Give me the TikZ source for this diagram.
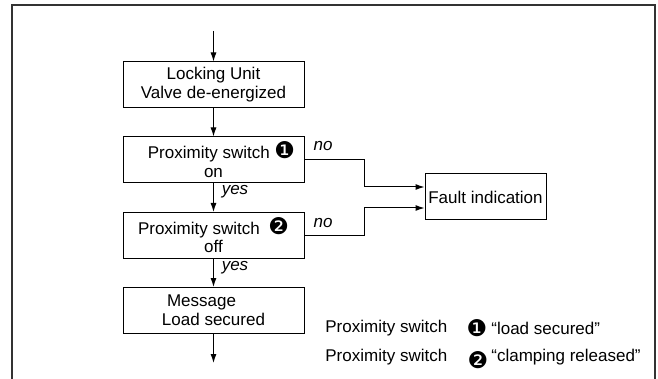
\documentclass[tikz,border=0pt]{standalone}
\usepackage{fontspec}
\setmainfont{Liberation Sans}
\newfontfamily\dingfont{DejaVu Sans}
\newcommand{\bigdot}[1]{{\dingfont\fontsize{11.5}{9}\selectfont #1}}
\usetikzlibrary{arrows.meta}

\tikzset{
  stepbox/.style={draw, line width=0.5pt, minimum width=90.5pt, minimum height=23pt,
    align=center, inner sep=0pt, font=\fontsize{8.5}{9.5}\selectfont},
  label/.style={inner sep=0pt, font=\fontsize{8.5}{9.5}\selectfont},
  flow/.style={-{Latex[length=4.5pt,width=3pt]}, line width=0.5pt},
}

\begin{document}
\begin{tikzpicture}[x=0.5pt, y=-0.5pt]
  \useasboundingbox (0,0) rectangle (658,379);
  % frame
  \draw[line width=0.7pt, black!80] (12,379) -- (12,5) -- (655,5) -- (655,379);

  % flow chart
  \coordinate (start) at (213.5,31);
  \coordinate (stop) at (213.5,363);
  \node[stepbox] (unit) at (213.5,85) {Locking Unit\\Valve de-energized};
  \node[stepbox] (sw1) at (213.5,160) {\hspace*{8pt}Proximity switch \bigdot{❶}\\on};
  \node[stepbox, font=\fontsize{8.5}{7.5}\selectfont] (sw2) at (213.5,235.5) {Proximity switch\enspace\bigdot{❷}\\off};
  \node[stepbox] (msg) at (213.5,310.5) {Message\hspace*{12pt}\\Load secured};
  \node[stepbox, minimum width=60.5pt] (fault) at (485.5,197) {Fault indication};

  \draw[flow] (start) -- (unit);
  \draw[flow] (unit) -- (sw1);
  \draw[flow] (sw1) -- (sw2);
  \draw[flow] (sw2) -- (msg);
  \draw[flow] (msg) -- (stop);
  \draw[flow] (sw1.east) -- ++(60,0) |- ([yshift=5pt]fault.west);
  \draw[flow] (sw2.east) -- ++(60,0) |- ([yshift=-5.5pt]fault.west);

  % branch labels
  \node[label, font=\fontsize{8.5}{9.5}\itshape] (no1) at (323,146) {no};
  \node[label, font=\fontsize{8.5}{9.5}\itshape] (no2) at (323,223) {no};
  \node[label, font=\fontsize{8.5}{9.5}\itshape] (yes1) at (235,192) {yes};
  \node[label, font=\fontsize{8.5}{9.5}\itshape] (yes2) at (235,268) {yes};

  % legend
  \node[label, anchor=west] (leg1) at (325,328) {Proximity switch};
  \node[label] (dot1) at (477,328) {\bigdot{❶}};
  \node[label, anchor=west] (txt1) at (491,328) {“load secured”};
  \node[label, anchor=west] (leg2) at (325,357) {Proximity switch};
  \node[label] (dot2) at (478,360) {\bigdot{❷}};
  \node[label, anchor=west] (txt2) at (491,357) {“clamping released”};
\end{tikzpicture}
\end{document}
